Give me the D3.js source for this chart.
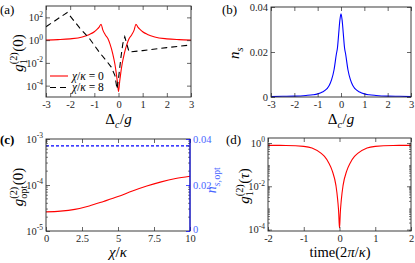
<!DOCTYPE html>
<html><head><meta charset="utf-8">
<script src="https://cdn.jsdelivr.net/npm/d3@7.9.0/dist/d3.min.js"></script>
<style>
body{margin:0;background:#fff}
svg, svg text{font-family:"Liberation Serif","Times New Roman",serif}
</style></head><body>
<svg id="fig" width="415" height="263"></svg>
<script>
// (a) g2 vs detuning, chi/kappa = 0 and 8
const detA0 = [-3,-2.5,-2,-1.5,-1.2,-1,-0.9,-0.8,-0.72,-0.65,-0.55,-0.44,-0.35,-0.24,-0.15,-0.1,-0.05,0,
  0.05,0.1,0.15,0.24,0.35,0.44,0.55,0.65,0.72,0.8,0.9,1,1.2,1.5,2,2.5,3];
const g2A0 = [1.0,1.1,1.3,1.9,3.2,5.5,8.5,14,25,8,3,1.4,0.45,0.066,0.008,0.0016,0.00025,0.00003,
  0.00025,0.0016,0.008,0.066,0.45,1.4,3,8,25,14,8.5,5.5,3.2,1.9,1.3,1.1,1.0];
const detA8 = [-3,-2.12,-1.6,-1.18,-0.8,-0.5,-0.3,-0.15,-0.06,0,0.1,0.18,0.26,0.35,0.44,1,2,3];
const g2A8 = [15,270,11.5,1.2,0.09,0.015,0.0043,0.0008,0.00005,0.0004,0.03,0.5,2.0,0.4,0.09,0.12,0.22,0.38];
// (b) photon number vs detuning
const detB = [-3,-2.5,-2,-1.5,-1.2,-1,-0.8,-0.6,-0.5,-0.4,-0.3,-0.2,-0.15,-0.1,-0.05,0,
  0.05,0.1,0.15,0.2,0.3,0.4,0.5,0.6,0.8,1,1.2,1.5,2,2.5,3];
const nsB = [0.0002,0.0003,0.0004,0.0007,0.001,0.0014,0.0022,0.0037,0.0052,0.0078,0.012,0.019,0.022,0.028,0.034,0.037,
  0.034,0.028,0.022,0.019,0.012,0.0078,0.0052,0.0037,0.0022,0.0014,0.001,0.0007,0.0004,0.0003,0.0002];
// (c) optimal g2 and photon number vs chi/kappa
const chiC = [0,1,2,3,4,5,6,7,8,9,10];
const g2optC = [2.6e-5,2.7e-5,2.95e-5,3.5e-5,4.4e-5,5.6e-5,7.4e-5,9.5e-5,1.17e-4,1.38e-4,1.55e-4];
const nsOptC = [0.037,0.037,0.037,0.037,0.037,0.037,0.037,0.037,0.037,0.037,0.037];
// (d) g2(tau)
const tauD = [-2,-1.5,-1,-0.77,-0.5,-0.42,-0.3,-0.2,-0.1,-0.05,-0.02,-0.01,0,0.01,0.02,0.05,0.1,0.2,0.3,0.42,0.5,0.77,1,1.5,2];
const g2D = [0.78,0.77,0.7,0.59,0.32,0.24,0.12,0.05,0.011,0.0023,0.0005,0.0002,0.00012,0.0002,0.0005,0.0023,0.011,0.05,0.12,0.24,0.32,0.59,0.7,0.77,0.78];

const detTicks = [-3,-2,-1,0,1,2,3];
const logTicksA = [1e-4,1e-2,1,1e2];
const nsTicks = [0,0.02,0.04];
const chiTicks = [0,2.5,5,7.5,10];
const logTicksC = [1e-5,1e-4,1e-3];
const tauTicks = [-2,-1,0,1,2];
const logTicksD = [1e-4,1e-2,1];

const FONT = '"Liberation Serif","Times New Roman",serif';
const TICK_FS = 10.5, LAB_FS = 15;
const svg = d3.select('#fig');
const axisColor = '#262626';
const blue = '#0000ff', lblBlue = '#4a66ff', red = '#ff0000';
let clipN = 0;

function frame(l, r, t, b, xd, yd, ylog) {
  const x = d3.scaleLinear().domain(xd).range([l, r]);
  const y = (ylog ? d3.scaleLog() : d3.scaleLinear()).domain(yd).range([b, t]);
  const id = 'clip' + (clipN++);
  svg.append('clipPath').attr('id', id).append('rect')
    .attr('x', l).attr('y', t).attr('width', r - l).attr('height', b - t);
  const g = svg.append('g');
  const plot = g.append('g').attr('clip-path', `url(#${id})`);
  return {g, x, y, plot, l, r, t, b};
}

function powLabel(sel) {
  sel.each(function(d) {
    const t = d3.select(this);
    t.text('10');
    t.append('tspan').attr('dy', -4.5).attr('font-size', 7.5).text(Math.round(Math.log10(d)));
  });
}

function style(gAx, color) {
  gAx.attr('font-family', FONT).attr('font-size', TICK_FS);
  gAx.select('.domain').remove();
  gAx.selectAll('.tick line').attr('stroke', color || axisColor).attr('stroke-width', 0.7);
  gAx.selectAll('.tick text').attr('fill', color || axisColor);
}

function axes(p, xt, yt, ylog, rightTicks) {
  const fmt = d => String(d);
  const gb = p.g.append('g').attr('transform', `translate(0,${p.b})`)
    .call(d3.axisBottom(p.x).tickValues(xt).tickSizeInner(-4).tickSizeOuter(0).tickPadding(3.5).tickFormat(fmt));
  style(gb);
  const gt = p.g.append('g').attr('transform', `translate(0,${p.t})`)
    .call(d3.axisTop(p.x).tickValues(xt).tickSizeInner(-4).tickSizeOuter(0).tickFormat(() => ''));
  style(gt);
  const gl = p.g.append('g').attr('transform', `translate(${p.l},0)`)
    .call(d3.axisLeft(p.y).tickValues(yt).tickSizeInner(-4).tickSizeOuter(0).tickPadding(3).tickFormat(ylog ? () => '' : fmt));
  style(gl);
  if (ylog) gl.selectAll('.tick text').call(powLabel);
  if (rightTicks !== false) {
    const gr = p.g.append('g').attr('transform', `translate(${p.r},0)`)
      .call(d3.axisRight(p.y).tickValues(yt).tickSizeInner(-4).tickSizeOuter(0).tickFormat(() => ''));
    style(gr);
  }
  p.g.append('rect').attr('x', p.l).attr('y', p.t).attr('width', p.r - p.l).attr('height', p.b - p.t)
    .attr('fill', 'none').attr('stroke', axisColor).attr('stroke-width', 0.9);
}

function minorLog(p, sides) {
  const major = new Set(p.y.ticks().filter(v => Math.abs(Math.log10(v) - Math.round(Math.log10(v))) < 1e-9));
  const vals = p.y.ticks().filter(v => !major.has(v));
  sides.forEach(s => {
    const x0 = s === 'l' ? p.l : p.r, dir = s === 'l' ? 1 : -1;
    p.g.append('g').selectAll('line').data(vals).join('line')
      .attr('x1', x0).attr('x2', x0 + dir * 2)
      .attr('y1', d => p.y(d)).attr('y2', d => p.y(d))
      .attr('stroke', axisColor).attr('stroke-width', 0.6);
  });
}

// math-ish label as one flowing <text>: lvl 1 = superscript, -1 = subscript,
// stack puts a script under/over the previous one
const measurer = svg.append('text').attr('font-family', FONT).attr('visibility', 'hidden');
function widthOf(s, size, it) {
  measurer.attr('font-size', size).attr('font-style', it ? 'italic' : 'normal').text(s);
  return measurer.node().getComputedTextLength();
}
function mathText(parent, items, fs, color) {
  const grp = parent.append('g');
  const txt = grp.append('text').attr('font-family', FONT).attr('fill', color || '#000');
  let x = 0, flow = 0, cur = 0, scriptX = 0, scriptW = 0;
  items.forEach(it => {
    const size = it.lvl ? fs * 0.68 : fs;
    const yy = it.lvl === 1 ? -fs * 0.42 : it.lvl === -1 ? fs * 0.26 : 0;
    const px = it.stack ? scriptX : x;
    const w = widthOf(it.t, size, it.it);
    txt.append('tspan').attr('dx', (px - flow).toFixed(2)).attr('dy', (yy - cur).toFixed(2))
      .attr('font-size', size).attr('font-style', it.it ? 'italic' : 'normal').text(it.t);
    flow = px + w; cur = yy;
    if (it.lvl) {
      if (!it.stack) { scriptX = px; scriptW = w; } else scriptW = Math.max(scriptW, w);
      x = scriptX + scriptW + 0.5;
    } else x = px + w;
  });
  return {grp, w: x};
}
function xLabel(items, cx, y, fs) {
  const m = mathText(svg, items, fs || LAB_FS);
  m.grp.attr('transform', `translate(${cx - m.w / 2},${y})`);
}
function yLabel(items, cx, cy, fs, color) {
  const m = mathText(svg, items, fs || LAB_FS, color);
  m.grp.attr('transform', `translate(${cx},${cy}) rotate(-90) translate(${-m.w / 2},0)`);
}
function panelTag(t, x, y, bold) {
  svg.append('text').attr('x', x).attr('y', y).attr('font-size', 13).attr('font-family', FONT)
    .attr('font-weight', bold ? 'bold' : 'normal').text(t);
}

const smooth = d3.curveMonotoneX;

// ---- (a)
const pa = frame(46, 191, 6, 97, [-3, 3], [1e-5, 1e3], true);
pa.plot.append('path').datum(d3.zip(detA0, g2A0))
  .attr('d', d3.line().x(d => pa.x(d[0])).y(d => pa.y(d[1])).curve(smooth))
  .attr('fill', 'none').attr('stroke', red).attr('stroke-width', 1.1);
pa.plot.append('path').datum(d3.zip(detA8, g2A8))
  .attr('d', d3.line().x(d => pa.x(d[0])).y(d => pa.y(d[1])))
  .attr('fill', 'none').attr('stroke', '#000').attr('stroke-width', 1.1).attr('stroke-dasharray', '6,4');
axes(pa, detTicks, logTicksA, true);
// legend
[[red, null, '0', 76], ['#000', '6,4', '8', 87.5]].forEach(([c, dash, v, yy]) => {
  svg.append('line').attr('x1', 50).attr('x2', 68).attr('y1', yy).attr('y2', yy)
    .attr('stroke', c).attr('stroke-width', 1.1).attr('stroke-dasharray', dash);
  const m = mathText(svg, [{t: 'χ', it: true}, {t: '/'}, {t: 'κ', it: true}, {t: '\u00a0=\u00a0' + v}], 11.5);
  m.grp.attr('transform', `translate(72,${yy + 3.5})`);
});
xLabel([{t: 'Δ'}, {t: 'c', it: true, lvl: -1}, {t: '/'}, {t: 'g', it: true}], 118.5, 124);
yLabel([{t: 'g', it: true}, {t: '(2)', lvl: 1}, {t: '1', lvl: -1, stack: true}, {t: '(0)'}], 23, 53);
panelTag('(a)', 0, 14);

// ---- (b)
const pb = frame(271, 411, 7, 97, [-3, 3], [0, 0.04], false);
pb.plot.append('path').datum(d3.zip(detB, nsB))
  .attr('d', d3.line().x(d => pb.x(d[0])).y(d => pb.y(d[1])).curve(smooth))
  .attr('fill', 'none').attr('stroke', blue).attr('stroke-width', 1.1);
axes(pb, detTicks, nsTicks, false);
xLabel([{t: 'Δ'}, {t: 'c', it: true, lvl: -1}, {t: '/'}, {t: 'g', it: true}], 341, 124);
yLabel([{t: 'n', it: true}, {t: 's', it: true, lvl: -1}], 239, 53);
panelTag('(b)', 222, 14);

// ---- (c)
const pc = frame(46, 190, 139, 231, [0, 10], [1e-5, 1e-3], true);
const yc2 = d3.scaleLinear().domain([0, 0.04]).range([231, 139]);
pc.plot.append('path').datum(d3.zip(chiC, g2optC))
  .attr('d', d3.line().x(d => pc.x(d[0])).y(d => pc.y(d[1])).curve(smooth))
  .attr('fill', 'none').attr('stroke', red).attr('stroke-width', 1.1);
pc.plot.append('path').datum(d3.zip(chiC, nsOptC))
  .attr('d', d3.line().x(d => pc.x(d[0])).y(d => yc2(d[1])))
  .attr('fill', 'none').attr('stroke', blue).attr('stroke-width', 1.1).attr('stroke-dasharray', '3,2');
axes(pc, chiTicks, logTicksC, true, false);
minorLog(pc, ['l', 'r']);
const gr2 = pc.g.append('g').attr('transform', `translate(${pc.r},0)`)
  .call(d3.axisRight(yc2).tickValues(nsTicks).tickSizeInner(-4).tickSizeOuter(0).tickPadding(3).tickFormat(d => String(d)));
style(gr2, lblBlue);
gr2.selectAll('.tick line').attr('stroke', blue);
gr2.selectAll('.tick text').filter(d => d === 0).attr('dy', '0.1em');
pc.g.append('line').attr('x1', pc.r).attr('x2', pc.r).attr('y1', pc.t).attr('y2', pc.b)
  .attr('stroke', blue).attr('stroke-width', 1);
xLabel([{t: 'χ', it: true}, {t: '/'}, {t: 'κ', it: true}], 118, 257);
yLabel([{t: 'g', it: true}, {t: '(2)', lvl: 1}, {t: 'opt', lvl: -1, stack: true}, {t: '(0)'}], 23, 187);
yLabel([{t: 'n', it: true}, {t: 's,', it: true, lvl: -1}, {t: 'opt', lvl: -1}], 216, 180, 14, lblBlue);
panelTag('(c)', 0, 144, true);

// ---- (d)
const pd = frame(268, 411, 138, 231, [-2, 2], [8.6e-5, 1.7], true);
pd.plot.append('path').datum(d3.zip(tauD, g2D))
  .attr('d', d3.line().x(d => pd.x(d[0])).y(d => pd.y(d[1])).curve(smooth))
  .attr('fill', 'none').attr('stroke', red).attr('stroke-width', 1.1);
axes(pd, tauTicks, logTicksD, true);
minorLog(pd, ['l', 'r']);
xLabel([{t: 'time(2'}, {t: 'π', it: true}, {t: '/'}, {t: 'κ', it: true}, {t: ')'}], 340, 256.5, 14.5);
yLabel([{t: 'g', it: true}, {t: '(2)', lvl: 1}, {t: '1', lvl: -1, stack: true}, {t: '('}, {t: 'τ', it: true}, {t: ')'}], 249, 186);
panelTag('(d)', 226, 144);
</script>
</body></html>
